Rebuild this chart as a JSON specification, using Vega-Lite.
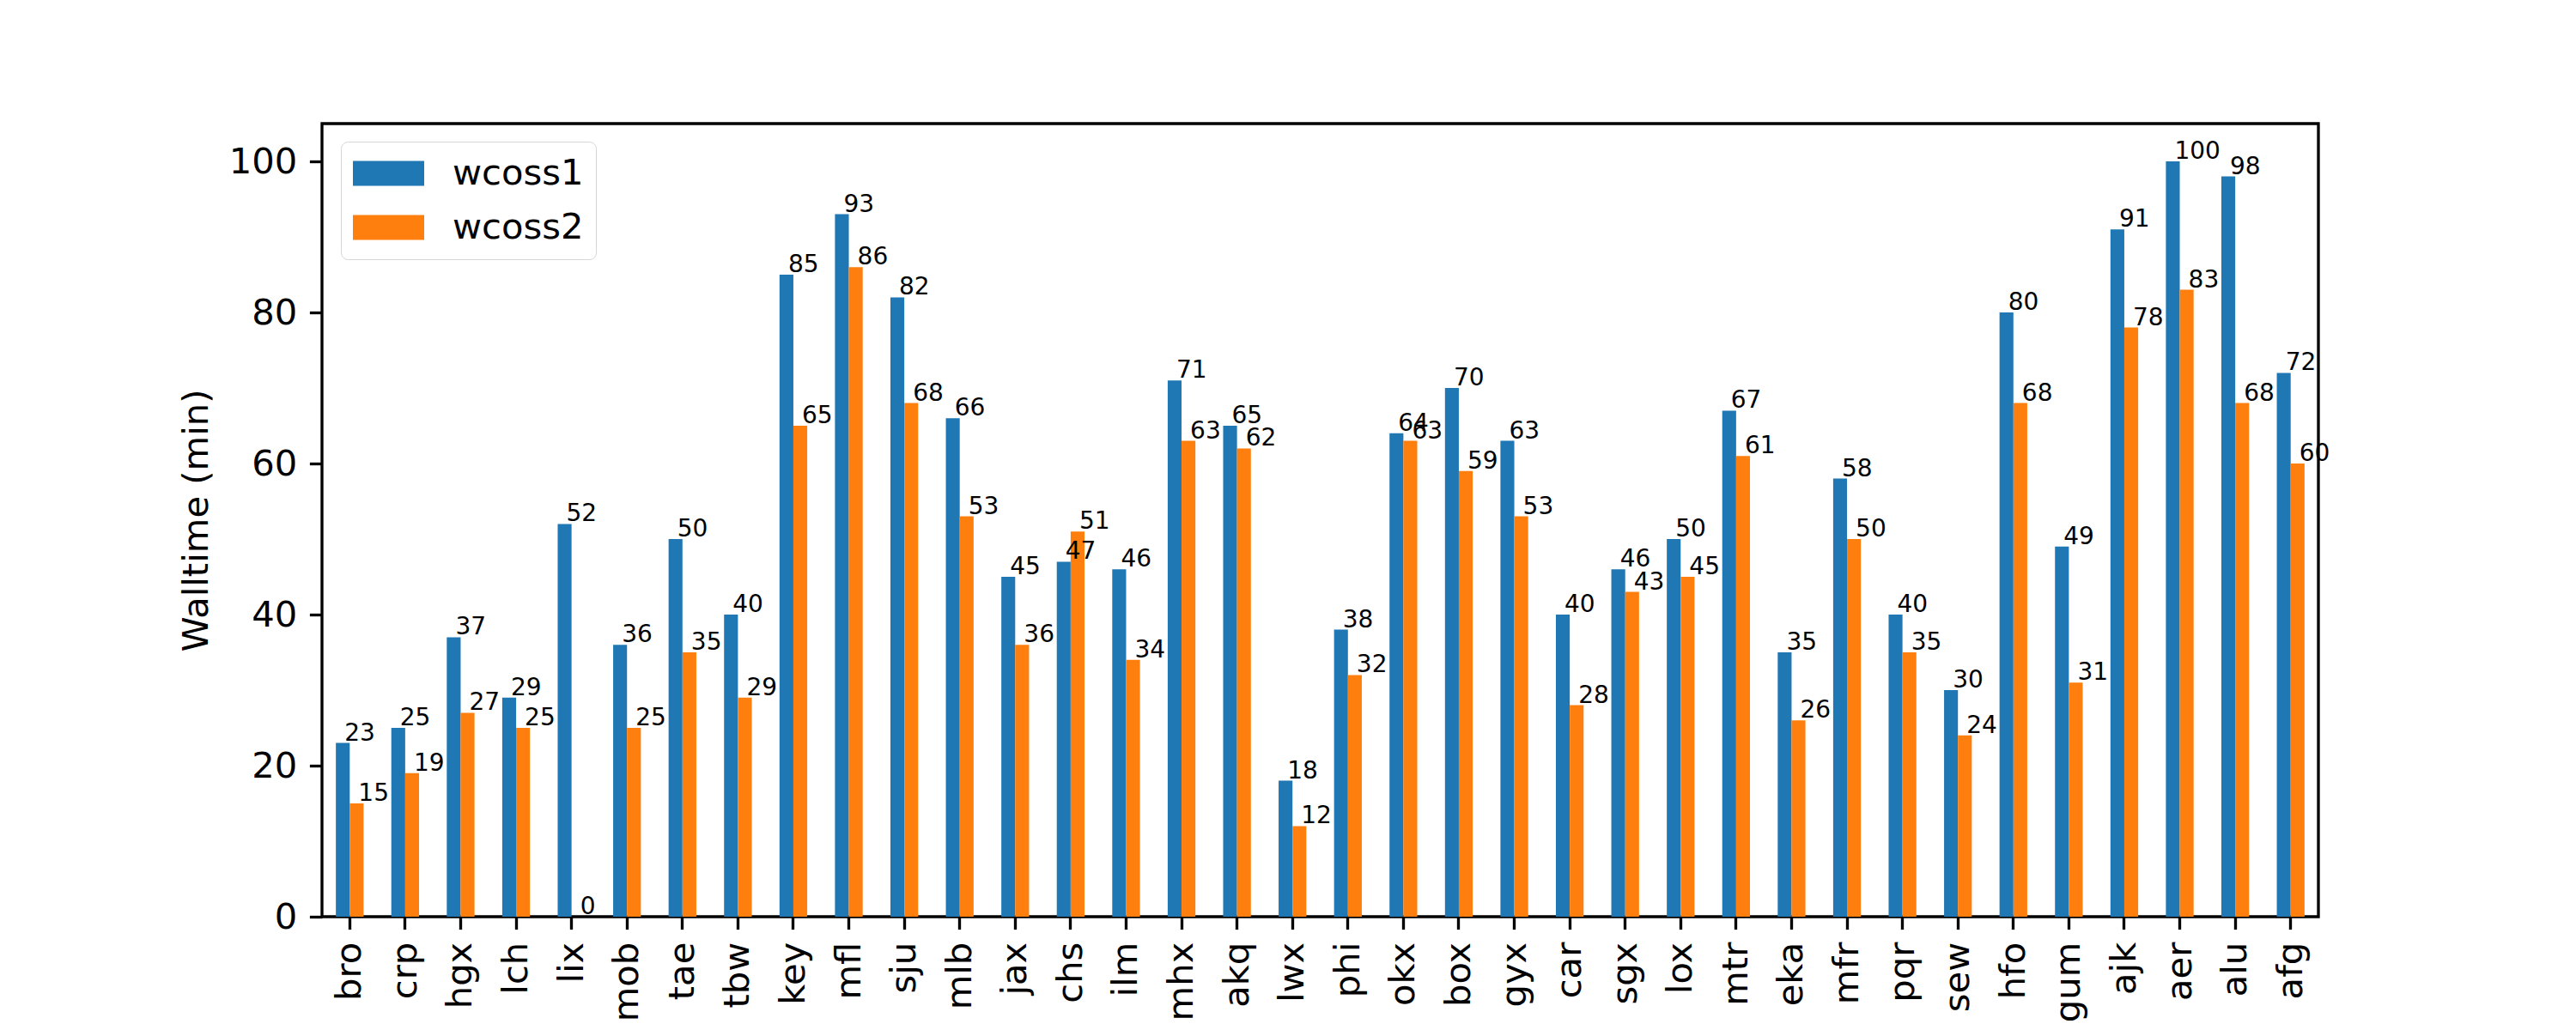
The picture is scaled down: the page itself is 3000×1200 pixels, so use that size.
{
  "$schema": "https://vega.github.io/schema/vega-lite/v6.json",
  "autosize": {"type": "none"},
  "width": 2325,
  "height": 924,
  "padding": {"left": 375, "top": 144, "right": 300, "bottom": 132},
  "background": "white",
  "config": {
    "font": "DejaVu Sans",
    "view": {"stroke": "black", "strokeWidth": 3.33},
    "axis": {
      "domain": false,
      "grid": false,
      "tickColor": "black",
      "tickWidth": 3.33,
      "tickSize": 14.6,
      "labelColor": "black",
      "labelFont": "DejaVu Sans",
      "labelFontSize": 41.7,
      "labelPadding": 14.6,
      "titleFont": "DejaVu Sans",
      "titleFontSize": 41.7,
      "titleFontWeight": "normal",
      "titleColor": "black"
    }
  },
  "data": {
    "values": [
      {"station": "bro", "series": "wcoss1", "value": 23}, {"station": "bro", "series": "wcoss2", "value": 15},
      {"station": "crp", "series": "wcoss1", "value": 25}, {"station": "crp", "series": "wcoss2", "value": 19},
      {"station": "hgx", "series": "wcoss1", "value": 37}, {"station": "hgx", "series": "wcoss2", "value": 27},
      {"station": "lch", "series": "wcoss1", "value": 29}, {"station": "lch", "series": "wcoss2", "value": 25},
      {"station": "lix", "series": "wcoss1", "value": 52}, {"station": "lix", "series": "wcoss2", "value": 0},
      {"station": "mob", "series": "wcoss1", "value": 36}, {"station": "mob", "series": "wcoss2", "value": 25},
      {"station": "tae", "series": "wcoss1", "value": 50}, {"station": "tae", "series": "wcoss2", "value": 35},
      {"station": "tbw", "series": "wcoss1", "value": 40}, {"station": "tbw", "series": "wcoss2", "value": 29},
      {"station": "key", "series": "wcoss1", "value": 85}, {"station": "key", "series": "wcoss2", "value": 65},
      {"station": "mfl", "series": "wcoss1", "value": 93}, {"station": "mfl", "series": "wcoss2", "value": 86},
      {"station": "sju", "series": "wcoss1", "value": 82}, {"station": "sju", "series": "wcoss2", "value": 68},
      {"station": "mlb", "series": "wcoss1", "value": 66}, {"station": "mlb", "series": "wcoss2", "value": 53},
      {"station": "jax", "series": "wcoss1", "value": 45}, {"station": "jax", "series": "wcoss2", "value": 36},
      {"station": "chs", "series": "wcoss1", "value": 47}, {"station": "chs", "series": "wcoss2", "value": 51},
      {"station": "ilm", "series": "wcoss1", "value": 46}, {"station": "ilm", "series": "wcoss2", "value": 34},
      {"station": "mhx", "series": "wcoss1", "value": 71}, {"station": "mhx", "series": "wcoss2", "value": 63},
      {"station": "akq", "series": "wcoss1", "value": 65}, {"station": "akq", "series": "wcoss2", "value": 62},
      {"station": "lwx", "series": "wcoss1", "value": 18}, {"station": "lwx", "series": "wcoss2", "value": 12},
      {"station": "phi", "series": "wcoss1", "value": 38}, {"station": "phi", "series": "wcoss2", "value": 32},
      {"station": "okx", "series": "wcoss1", "value": 64}, {"station": "okx", "series": "wcoss2", "value": 63},
      {"station": "box", "series": "wcoss1", "value": 70}, {"station": "box", "series": "wcoss2", "value": 59},
      {"station": "gyx", "series": "wcoss1", "value": 63}, {"station": "gyx", "series": "wcoss2", "value": 53},
      {"station": "car", "series": "wcoss1", "value": 40}, {"station": "car", "series": "wcoss2", "value": 28},
      {"station": "sgx", "series": "wcoss1", "value": 46}, {"station": "sgx", "series": "wcoss2", "value": 43},
      {"station": "lox", "series": "wcoss1", "value": 50}, {"station": "lox", "series": "wcoss2", "value": 45},
      {"station": "mtr", "series": "wcoss1", "value": 67}, {"station": "mtr", "series": "wcoss2", "value": 61},
      {"station": "eka", "series": "wcoss1", "value": 35}, {"station": "eka", "series": "wcoss2", "value": 26},
      {"station": "mfr", "series": "wcoss1", "value": 58}, {"station": "mfr", "series": "wcoss2", "value": 50},
      {"station": "pqr", "series": "wcoss1", "value": 40}, {"station": "pqr", "series": "wcoss2", "value": 35},
      {"station": "sew", "series": "wcoss1", "value": 30}, {"station": "sew", "series": "wcoss2", "value": 24},
      {"station": "hfo", "series": "wcoss1", "value": 80}, {"station": "hfo", "series": "wcoss2", "value": 68},
      {"station": "gum", "series": "wcoss1", "value": 49}, {"station": "gum", "series": "wcoss2", "value": 31},
      {"station": "ajk", "series": "wcoss1", "value": 91}, {"station": "ajk", "series": "wcoss2", "value": 78},
      {"station": "aer", "series": "wcoss1", "value": 100}, {"station": "aer", "series": "wcoss2", "value": 83},
      {"station": "alu", "series": "wcoss1", "value": 98}, {"station": "alu", "series": "wcoss2", "value": 68},
      {"station": "afg", "series": "wcoss1", "value": 72}, {"station": "afg", "series": "wcoss2", "value": 60}
    ]
  },
  "encoding": {
    "x": {
      "field": "station",
      "type": "nominal",
      "sort": null,
      "scale": {"paddingInner": 0.5, "paddingOuter": 0.25},
      "axis": {"title": null, "labelAngle": -90, "labelAlign": "right", "labelBaseline": "middle"}
    },
    "xOffset": {"field": "series", "type": "nominal", "sort": ["wcoss1", "wcoss2"], "scale": {"paddingInner": 0, "paddingOuter": 0}},
    "y": {
      "field": "value",
      "type": "quantitative",
      "scale": {"domain": [0, 105], "nice": false, "zero": true},
      "axis": {"title": "Walltime (min)", "values": [0, 20, 40, 60, 80, 100], "titlePadding": 16}
    }
  },
  "layer": [
    {
      "mark": {"type": "bar"},
      "encoding": {
        "color": {
          "field": "series",
          "type": "nominal",
          "scale": {"domain": ["wcoss1", "wcoss2"], "range": ["#1f77b4", "#ff7f0e"]},
          "legend": {
            "title": null,
            "orient": "none",
            "legendX": 22,
            "legendY": 21,
            "direction": "vertical",
            "symbolType": "M-1,-0.35H1V0.35H-1Z",
            "symbolSize": 6889,
            "symbolStrokeWidth": 0,
            "labelFont": "DejaVu Sans",
            "labelFontSize": 41.7,
            "labelColor": "black",
            "labelOffset": 33,
            "clipHeight": 46,
            "rowPadding": 17,
            "padding": 14,
            "fillColor": "rgba(255,255,255,0.8)",
            "strokeColor": "#d6d6d6",
            "cornerRadius": 8
          }
        }
      }
    },
    {
      "mark": {"type": "text", "align": "left", "baseline": "alphabetic", "dx": 2, "dy": -3, "fontSize": 28, "font": "DejaVu Sans", "color": "black"},
      "encoding": {
        "text": {"field": "value", "type": "quantitative"}
      }
    }
  ]
}
